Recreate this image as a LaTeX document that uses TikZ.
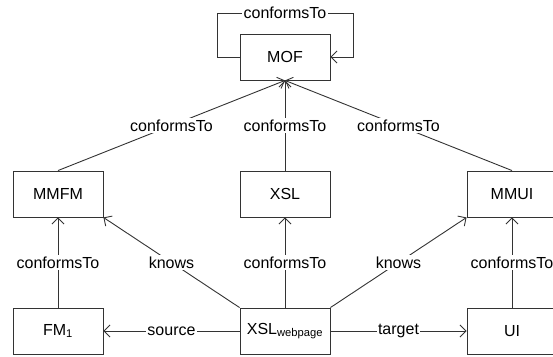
\documentclass[tikz,border=0pt]{standalone}
\usepackage{fontspec}
\setmainfont{Liberation Sans}
\usetikzlibrary{arrows.meta}
\begin{document}
\begin{tikzpicture}[x=1pt,y=-1pt,
  box/.style={draw=black!80,line width=0.9pt,minimum width=90pt,minimum height=46pt,inner sep=0pt,font=\fontsize{16}{18}\selectfont},
  conn/.style={draw=black!80,line width=0.9pt},
  arr/.style={conn,-{Straight Barb[length=6pt,width=12pt]}},
  lbl/.style={fill=white,inner sep=1.5pt,font=\fontsize{16}{18}\selectfont}]
\useasboundingbox (0,0) rectangle (553,356);
\node[box] (mof) at (285,57) {MOF};
\node[box] (mmfm) at (58,194) {MMFM};
\node[box] (xsl) at (285,194) {XSL};
\node[box] (mmui) at (512,194) {MMUI};
\node[box] (fm) at (58,331) {FM\textsubscript{1}};
\node[box] (xslw) at (285,331) {XSL\textsubscript{webpage}};
\node[box] (ui) at (512,331) {UI};
\coordinate (l1) at (217,57);
\coordinate (l2) at (217,13);
\coordinate (l3) at (353,13);
\coordinate (l4) at (353,57);
\draw[arr] (mof.west) -- (l1) -- (l2) -- node[lbl]{conformsTo} (l3) -- (l4) -- (mof.east);
\draw[arr] (mmfm.north) -- node[lbl]{conformsTo} (mof.south);
\draw[arr] (xsl.north) -- node[lbl]{conformsTo} (mof.south);
\draw[arr] (mmui.north) -- node[lbl]{conformsTo} (mof.south);
\draw[arr] (fm.north) -- node[lbl]{conformsTo} (mmfm.south);
\draw[arr] (xslw.north) -- node[lbl]{conformsTo} (xsl.south);
\draw[arr] (ui.north) -- node[lbl]{conformsTo} (mmui.south);
\draw[arr] (xslw.north west) -- node[lbl]{knows} (mmfm.south east);
\draw[arr] (xslw.north east) -- node[lbl]{knows} (mmui.south west);
\draw[arr] (xslw.west) -- node[lbl]{source} (fm.east);
\draw[arr] (xslw.east) -- node[lbl]{target} (ui.west);
\end{tikzpicture}
\end{document}
